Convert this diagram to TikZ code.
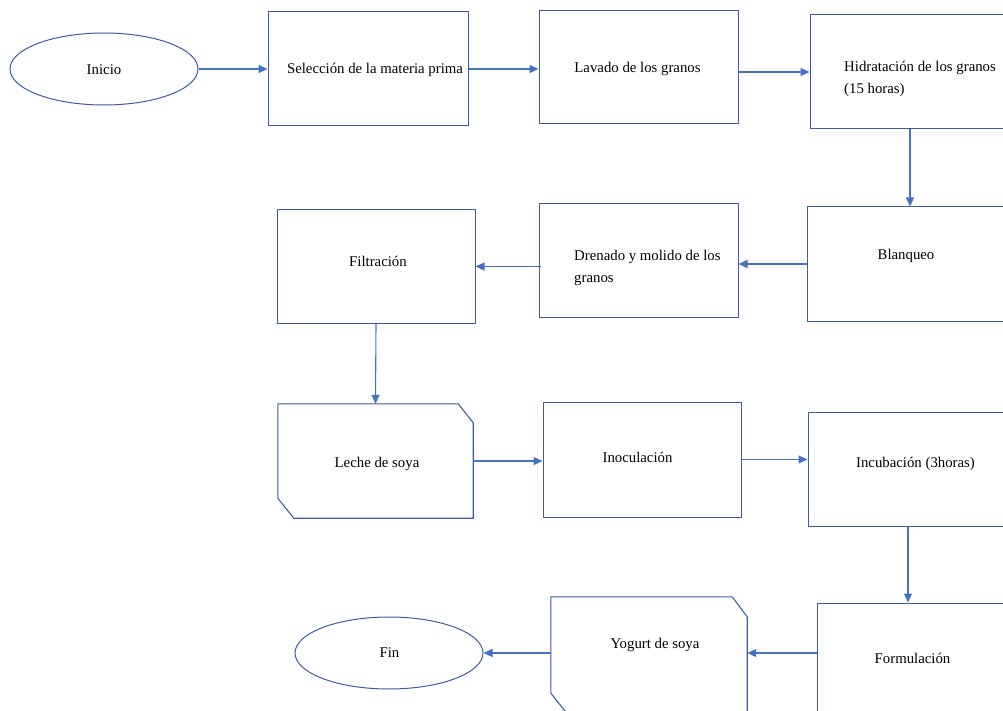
\documentclass[tikz,border=0pt]{standalone}
\usepackage{fontspec}
\setmainfont{Liberation Serif}
\usetikzlibrary{arrows.meta,shapes.geometric}
\definecolor{boxblue}{RGB}{62,92,165}
\definecolor{arrowblue}{RGB}{68,114,196}
\begin{document}
\begin{tikzpicture}[x=1pt,y=-1pt,
        caja/.style={draw=boxblue,line width=1pt,minimum width=200pt,minimum height=114pt,inner sep=0pt},
        hueca/.style={minimum width=196pt,minimum height=114pt,inner sep=0pt},
        borde/.style={draw=boxblue,line width=1.1pt},
        elipse/.style={ellipse,draw=boxblue,line width=1pt,minimum width=188pt,minimum height=72pt,inner sep=0pt},
        texto/.style={font=\fontsize{14.8}{22}\selectfont,inner sep=0pt},
        flecha/.style={draw=arrowblue,line width=1.1pt,-{Triangle[length=9pt,width=8pt]}}]
        \path[clip] (0,0) rectangle (1003,711);
        \fill[white] (0,0) rectangle (1003,711);

        % primera fila
        \node[elipse] (ini) at (104,69) {};
        \node[caja] (sel) at (368,69) {};
        \node[caja,minimum width=199pt,minimum height=113pt] (lav) at (638.5,67.5) {};
        \node[caja] (hid) at (910,72) {};
        \node[texto] (tini) at (104,70) {Inicio};
        \node[texto] (tsel) at (375,70) {Selección de la materia prima};
        \node[texto] (tlav) at (637.5,69) {Lavado de los granos};
        \node[texto,anchor=west,align=left] (thid) at (844,79) {Hidratación de los granos\\(15 horas)};

        % segunda fila
        \node[caja] (bla) at (907,264) {};
        \node[caja,minimum width=199pt,minimum height=113pt] (dre) at (638.5,260.5) {};
        \node[caja,minimum width=198pt,minimum height=113pt] (fil) at (376,266.5) {};
        \node[texto] (tbla) at (906,256) {Blanqueo};
        \node[texto,anchor=west,align=left] (tdre) at (574,268) {Drenado y molido de los\\granos};
        \node[texto] (tfil) at (378,261) {Filtración};

        % tercera fila
        \node[hueca,minimum width=195pt] (lec) at (375.5,461) {};
        \node[caja,minimum width=198pt,minimum height=115pt] (ino) at (642,459.5) {};
        \node[caja] (inc) at (908,469) {};
        \node[texto] (tlec) at (377,464) {Leche de soya};
        \node[texto] (tino) at (637.5,457) {Inoculación};
        \node[texto] (tinc) at (915.5,464) {Incubación (3horas)};

        % cuarta fila
        \node[caja] (for) at (917,660) {};
        \node[hueca,minimum height=116pt] (yog) at (649,655) {};
        \node[elipse] (fin) at (389,653) {};
        \node[texto] (tfor) at (912.5,658) {Formulación};
        \node[texto] (tyog) at (655,645) {Yogurt de soya};
        \node[texto] (tfin) at (389.5,653) {Fin};

        % esquinas cortadas
        \draw[borde] (lec.north west) -- ([xshift=-15pt]lec.north east) -- ([yshift=-19pt]lec.north east)
            -- (lec.south east) -- ([xshift=16pt]lec.south west) -- ([yshift=20pt]lec.south west) -- cycle;
        \draw[borde] (yog.north west) -- ([xshift=-15pt]yog.north east) -- ([yshift=-20pt]yog.north east)
            -- (yog.south east) -- ([xshift=16pt]yog.south west) -- ([yshift=20pt]yog.south west) -- cycle;

        % flechas
        \draw[flecha] (ini.east) -- (sel.west);
        \draw[flecha] (sel.east) -- (lav.west |- sel.east);
        \draw[flecha] (lav.east |- hid.west) -- (hid.west);
        \draw[flecha] (hid.south) -- (hid.south |- bla.north);
        \draw[flecha] (bla.west) -- (bla.west -| dre.east);
        \draw[flecha] ([xshift=2pt]fil.east -| dre.west) -- (fil.east);
        \draw[flecha] (fil.south) -- (lec.north);
        \draw[flecha] (lec.east) -- (lec.east -| ino.west);
        \draw[flecha] (ino.east) -- (ino.east -| inc.west);
        \draw[flecha] (inc.south) -- (inc.south |- for.north);
        \draw[flecha] (for.west |- fin.east) -- (fin.east -| yog.east);
        \draw[flecha] (yog.west |- fin.east) -- (fin.east);

    \end{tikzpicture}
\end{document}
